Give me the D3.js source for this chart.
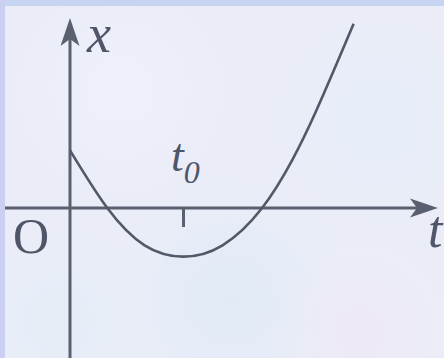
<!DOCTYPE html>
<html>
<head>
<meta charset="utf-8">
<script src="https://cdn.jsdelivr.net/npm/d3@7"></script>
<style>
  html, body { margin: 0; padding: 0; background: #eaedf8; }
  #chart-container { width: 444px; height: 358px; }
  text { font-family: "Liberation Serif", "DejaVu Serif", serif; fill: #50556a; }
</style>
</head>
<body>
<div id="chart-container"></div>
<script>
// curve (t in units of t0)
const tValues = [0, 0.33, 0.66, 1.0, 1.35, 1.70, 1.97, 2.17, 2.37, 2.51];
const xValues = [0.51, 0, -0.33, -0.43, -0.33, 0, 0.43, 0.84, 1.30, 1.63];
const tTicks = [1];
const tTickLabels = ["t"];
const tTickSubs = ["0"];

let chartFWidth = 444,
  chartFHeight = 358,
  axisColor = "#5b6070",
  curveColor = "#535869";

let svg = d3.select("#chart-container").append("svg")
  .attr("width", chartFWidth)
  .attr("height", chartFHeight);

// background + blotchy texture
let defs = svg.append("defs");
const blobs = [
  {id: "b1", cx: 230, cy: 300, r: 120, c: "#e1ebf6"},
  {id: "b2", cx: 360, cy: 330, r: 90, c: "#eee9f4"},
  {id: "b3", cx: 120, cy: 90, r: 110, c: "#eef0fb"},
  {id: "b4", cx: 380, cy: 120, r: 100, c: "#e6edf9"},
  {id: "b5", cx: 60, cy: 320, r: 90, c: "#e5edf7"}
];
blobs.forEach(b => {
  let g = defs.append("radialGradient").attr("id", b.id);
  g.append("stop").attr("offset", "0%").attr("stop-color", b.c).attr("stop-opacity", 1);
  g.append("stop").attr("offset", "100%").attr("stop-color", b.c).attr("stop-opacity", 0);
});

svg.append("rect")
  .attr("width", chartFWidth).attr("height", chartFHeight)
  .attr("fill", "#eaedf8");

svg.selectAll(".blob")
  .data(blobs)
  .enter().append("circle")
    .classed("blob", true)
    .attr("cx", d => d.cx).attr("cy", d => d.cy).attr("r", d => d.r)
    .attr("fill", d => `url(#${d.id})`);

// frame bands
svg.append("rect").attr("x", 0).attr("y", 0).attr("width", chartFWidth).attr("height", 6).attr("fill", "#c8d5f2");
svg.append("rect").attr("x", 0).attr("y", 0).attr("width", 5).attr("height", chartFHeight).attr("fill", "#cbd0f3");

let tScale = d3.scaleLinear().domain([0, 1]).range([70, 183]);
let xScale = d3.scaleLinear().domain([0, 1]).range([208, 95]);

// axes with arrowheads
let tMin = tScale.invert(5), tMax = tScale.invert(436);
let xMin = xScale.invert(358), xMax = xScale.invert(20);

svg.append("line")
  .attr("x1", tScale(tMin)).attr("x2", tScale(tMax) - 14)
  .attr("y1", xScale(0)).attr("y2", xScale(0))
  .attr("stroke", axisColor).attr("stroke-width", 3);

svg.append("line")
  .attr("x1", tScale(0)).attr("x2", tScale(0))
  .attr("y1", xScale(xMin)).attr("y2", xScale(xMax) + 14)
  .attr("stroke", axisColor).attr("stroke-width", 3);

function arrowPath(tipX, tipY, angle) {
  // arrow pointing along angle (radians), length 28, half-width 9, notch 7
  let pts = [[0, 0], [-28, -9.5], [-21, 0], [-28, 9.5]];
  let c = Math.cos(angle), s = Math.sin(angle);
  return "M" + pts.map(p => [tipX + p[0] * c - p[1] * s, tipY + p[0] * s + p[1] * c].join(",")).join("L") + "Z";
}

svg.append("path")
  .attr("d", arrowPath(tScale(tMax) + 2, xScale(0), 0))
  .attr("fill", axisColor);

svg.append("path")
  .attr("d", arrowPath(tScale(0), xScale(xMax) - 2, -Math.PI / 2))
  .attr("fill", axisColor);

// t0 tick
svg.append("g")
  .attr("transform", `translate(0, ${xScale(0)})`)
  .call(d3.axisBottom(tScale).tickValues(tTicks).tickFormat("").tickSizeInner(19).tickSizeOuter(0))
  .call(g => g.select(".domain").remove())
  .selectAll(".tick line")
    .attr("stroke", axisColor)
    .attr("stroke-width", 3);

// curve
let curve = d3.line()
  .x((d, i) => tScale(tValues[i]))
  .y(d => xScale(d))
  .curve(d3.curveNatural);

svg.append("path")
  .datum(xValues)
  .attr("d", curve)
  .attr("fill", "none")
  .attr("stroke", curveColor)
  .attr("stroke-width", 2.6);

// labels
svg.append("text")
  .attr("x", tScale(0) + 17).attr("y", 52)
  .attr("font-size", 54).attr("font-style", "italic")
  .text("x");

svg.append("text")
  .attr("x", 428).attr("y", 247)
  .attr("font-size", 52).attr("font-style", "italic")
  .text("t");

svg.append("text")
  .attr("x", 13).attr("y", 253)
  .attr("font-size", 50)
  .text("O");

let t0 = svg.append("text")
  .attr("x", tScale(tTicks[0]) - 12).attr("y", 171)
  .attr("font-size", 46).attr("font-style", "italic");
t0.append("tspan").text(tTickLabels[0]);
t0.append("tspan").attr("dy", 12).attr("font-size", 32).text(tTickSubs[0]);
</script>
</body>
</html>
